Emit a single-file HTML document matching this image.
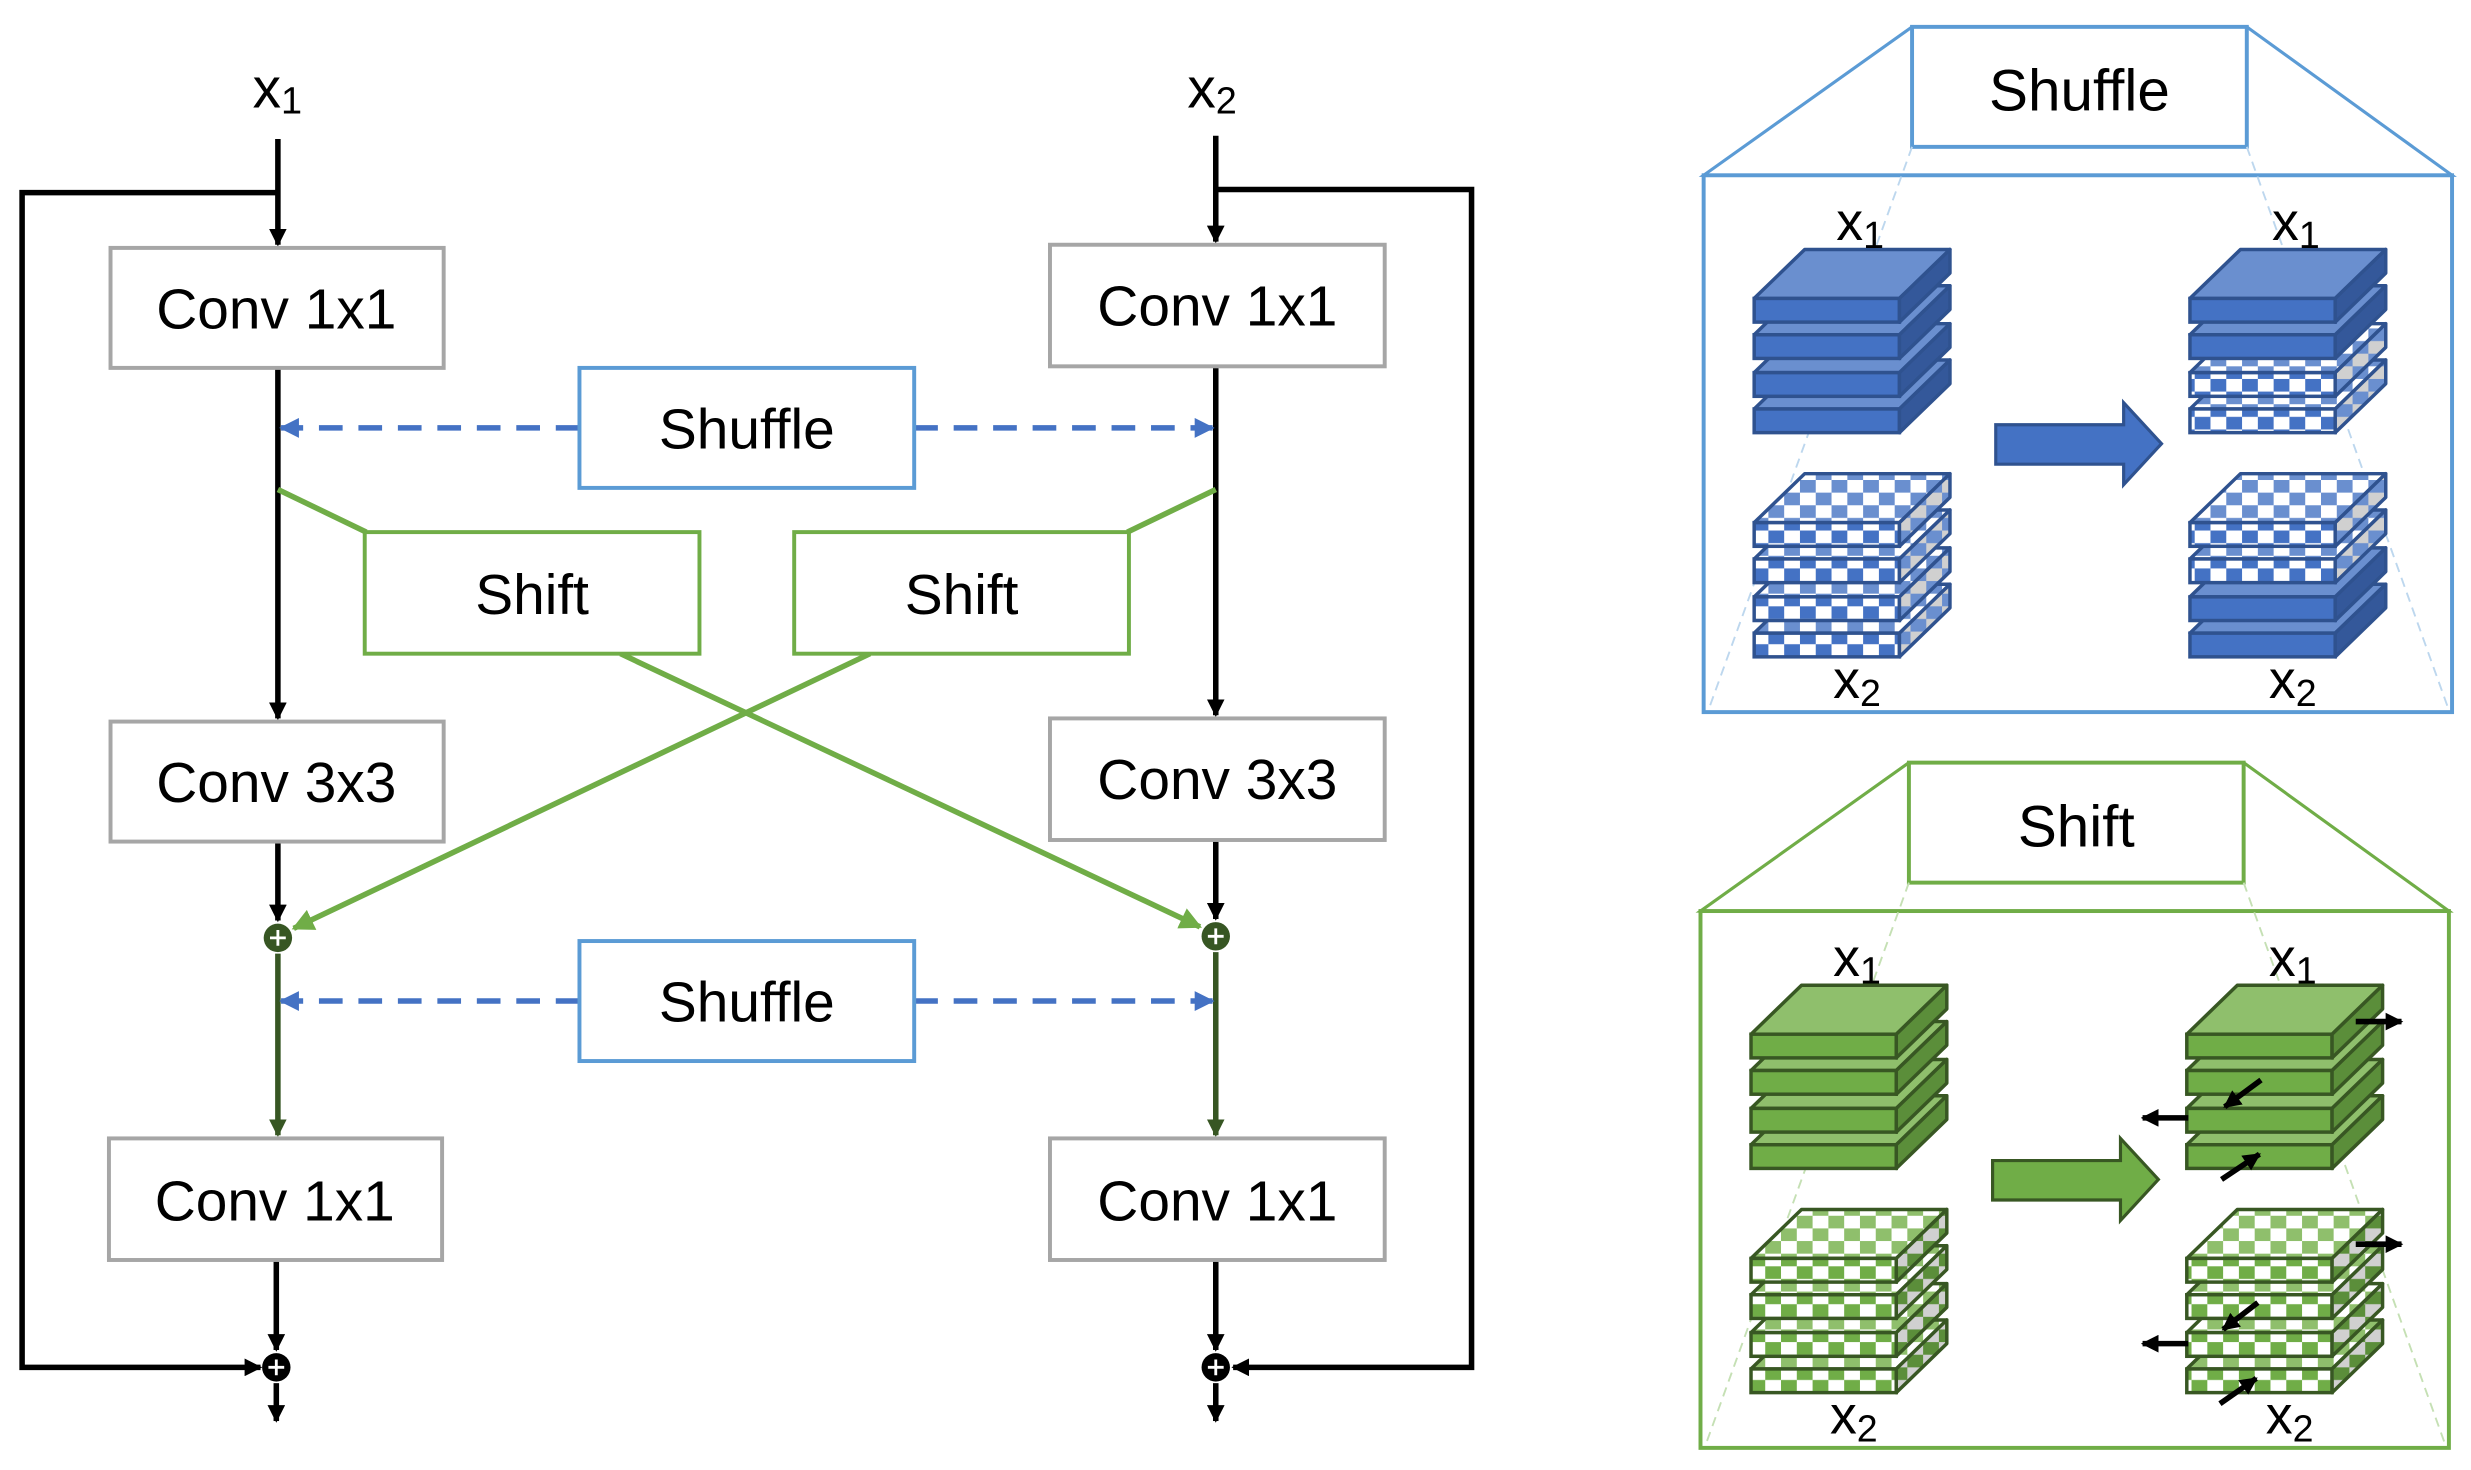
<!DOCTYPE html>
<html><head><meta charset="utf-8"><style>
html,body{margin:0;padding:0;background:#fff;}
svg{display:block;}
text{font-family:"Liberation Sans",sans-serif;fill:#000;}
</style></head><body>
<svg id="s" width="2471" height="1470" viewBox="0 0 1565 931" xmlns="http://www.w3.org/2000/svg">
<defs>
<marker id="ab" viewBox="0 0 10 10" refX="9" refY="5" markerWidth="3.2" markerHeight="3.2" orient="auto" markerUnits="strokeWidth"><path d="M0,0L10,5L0,10z" fill="#000"/></marker>
<marker id="abl" viewBox="0 0 10 10" refX="9" refY="5" markerWidth="3.6" markerHeight="3.6" orient="auto" markerUnits="strokeWidth"><path d="M0,0L10,5L0,10z" fill="#4472C4"/></marker>
<marker id="ag" viewBox="0 0 10 10" refX="9" refY="5" markerWidth="4" markerHeight="4" orient="auto" markerUnits="strokeWidth"><path d="M0,0L10,5L0,10z" fill="#70AD47"/></marker>
<marker id="adg" viewBox="0 0 10 10" refX="9" refY="5" markerWidth="3.2" markerHeight="3.2" orient="auto" markerUnits="strokeWidth"><path d="M0,0L10,5L0,10z" fill="#375623"/></marker>
<pattern id="cb" width="20" height="16" patternUnits="userSpaceOnUse"><rect width="20" height="16" fill="#fff"/><rect width="10" height="8" fill="#4472C4"/><rect x="10" y="8" width="10" height="8" fill="#4472C4"/></pattern>
<pattern id="cbt" width="20" height="16" patternUnits="userSpaceOnUse"><rect width="20" height="16" fill="#fff"/><rect width="10" height="8" fill="#6A8FCF"/><rect x="10" y="8" width="10" height="8" fill="#6A8FCF"/></pattern>
<pattern id="cbs" width="20" height="16" patternUnits="userSpaceOnUse"><rect width="20" height="16" fill="#d0d0d0"/><rect width="10" height="8" fill="#6A8FCF"/><rect x="10" y="8" width="10" height="8" fill="#6A8FCF"/></pattern>
<pattern id="cg" width="20" height="16" patternUnits="userSpaceOnUse"><rect width="20" height="16" fill="#fff"/><rect width="10" height="8" fill="#70AD47"/><rect x="10" y="8" width="10" height="8" fill="#70AD47"/></pattern>
<pattern id="cgt" width="20" height="16" patternUnits="userSpaceOnUse"><rect width="20" height="16" fill="#fff"/><rect width="10" height="8" fill="#8FBF6C"/><rect x="10" y="8" width="10" height="8" fill="#8FBF6C"/></pattern>
<pattern id="cgs" width="20" height="16" patternUnits="userSpaceOnUse"><rect width="20" height="16" fill="#d0d0d0"/><rect width="10" height="8" fill="#5B8E3A"/><rect x="10" y="8" width="10" height="8" fill="#5B8E3A"/></pattern>
</defs>

<text x="160" y="68" font-size="36">x<tspan font-size="24" dy="4">1</tspan></text>
<text x="752" y="68" font-size="36">x<tspan font-size="24" dy="4">2</tspan></text>

<g stroke="#000" stroke-width="3.5" fill="none">
<line x1="176" y1="88" x2="176" y2="155" marker-end="url(#ab)"/>
<line x1="770" y1="86" x2="770" y2="153" marker-end="url(#ab)"/>
<polyline points="176,122 14,122 14,866 165,866" marker-end="url(#ab)"/>
<polyline points="770,120 932,120 932,866 781,866" marker-end="url(#ab)"/>
<line x1="176" y1="233" x2="176" y2="455" marker-end="url(#ab)"/>
<line x1="770" y1="232" x2="770" y2="453" marker-end="url(#ab)"/>
<line x1="176" y1="533" x2="176" y2="583" marker-end="url(#ab)"/>
<line x1="770" y1="532" x2="770" y2="582" marker-end="url(#ab)"/>
<line x1="175" y1="798" x2="175" y2="855" marker-end="url(#ab)"/>
<line x1="770" y1="798" x2="770" y2="855" marker-end="url(#ab)"/>
<line x1="175" y1="876" x2="175" y2="900" marker-end="url(#ab)"/>
<line x1="770" y1="876" x2="770" y2="900" marker-end="url(#ab)"/>
</g>
<g stroke="#375623" stroke-width="3.5" fill="none">
<line x1="176" y1="604" x2="176" y2="719" marker-end="url(#adg)"/>
<line x1="770" y1="603" x2="770" y2="719" marker-end="url(#adg)"/>
</g>
<g stroke="#70AD47" stroke-width="3.5" fill="none">
<line x1="176" y1="310" x2="232" y2="337"/>
<line x1="770" y1="310" x2="714" y2="337"/>
<line x1="393" y1="414" x2="760" y2="587" marker-end="url(#ag)"/>
<line x1="551" y1="414" x2="186" y2="588" marker-end="url(#ag)"/>
</g>
<g stroke="#4472C4" stroke-width="3.5" fill="none" stroke-dasharray="15,10">
<line x1="367" y1="271" x2="178" y2="271" marker-end="url(#abl)"/>
<line x1="579" y1="271" x2="768" y2="271" marker-end="url(#abl)"/>
<line x1="367" y1="634" x2="178" y2="634" marker-end="url(#abl)"/>
<line x1="579" y1="634" x2="768" y2="634" marker-end="url(#abl)"/>
</g>

<g fill="#fff" stroke="#A6A6A6" stroke-width="2.5">
<rect x="70" y="157" width="211" height="76"/>
<rect x="665" y="155" width="212" height="77"/>
<rect x="70" y="457" width="211" height="76"/>
<rect x="665" y="455" width="212" height="77"/>
<rect x="69" y="721" width="211" height="77"/>
<rect x="665" y="721" width="212" height="77"/>
</g>
<g fill="#fff" stroke="#5B9BD5" stroke-width="2.5">
<rect x="367" y="233" width="212" height="76"/>
<rect x="367" y="596" width="212" height="76"/>
</g>
<g fill="#fff" stroke="#70AD47" stroke-width="2.5">
<rect x="231" y="337" width="212" height="77"/>
<rect x="503" y="337" width="212" height="77"/>
</g>
<g font-size="36" text-anchor="middle">
<text x="175" y="208">Conv 1x1</text>
<text x="771" y="206">Conv 1x1</text>
<text x="175" y="508">Conv 3x3</text>
<text x="771" y="506">Conv 3x3</text>
<text x="174" y="773">Conv 1x1</text>
<text x="771" y="773">Conv 1x1</text>
<text x="473" y="284">Shuffle</text>
<text x="473" y="647">Shuffle</text>
<text x="337" y="389">Shift</text>
<text x="609" y="389">Shift</text>
</g>

<g>
<circle cx="176" cy="594" r="9" fill="#375623"/>
<circle cx="770" cy="593" r="9" fill="#375623"/>
<circle cx="175" cy="866" r="9" fill="#000"/>
<circle cx="770" cy="866" r="9" fill="#000"/>
<g stroke="#fff" stroke-width="1.8">
<path d="M171,594h10M176,589v10"/><path d="M765,593h10M770,588v10"/>
<path d="M170,866h10M175,861v10"/><path d="M765,866h10M770,861v10"/>
</g>
</g>

<g id="panels"></g>
</svg>
<script>
(function(){
var NS="http://www.w3.org/2000/svg",P=document.getElementById("panels");
function el(t,a,par){var e=document.createElementNS(NS,t);for(var k in a)e.setAttribute(k,a[k]);(par||P).appendChild(e);return e;}
function txt(x,y,s,sub,fs,par){var t=el("text",{x:x,y:y,"font-size":fs},par);t.appendChild(document.createTextNode(s));if(sub){var ts=el("tspan",{"font-size":fs*0.7,dy:5},t);ts.appendChild(document.createTextNode(sub));}return t;}
function layer(g,x,y,c,checked){
 var w=92,h=15,d=32,dy=31;
 el("polygon",{points:[x,y,x+d,y-dy,x+w+d,y-dy,x+w,y].join(","),fill:checked?c.ct:c.top,stroke:c.st,"stroke-width":2.2,"stroke-linejoin":"round"},g);
 el("rect",{x:x,y:y,width:w,height:h,fill:checked?c.cf:c.front,stroke:c.st,"stroke-width":2.2},g);
 el("polygon",{points:[x+w,y,x+w+d,y-dy,x+w+d,y-dy+h,x+w,y+h].join(","),fill:checked?c.cs:c.side,stroke:c.st,"stroke-width":2.2,"stroke-linejoin":"round"},g);
}
function stack(g,x,ys,c,chk){for(var i=ys.length-1;i>=0;i--)layer(g,x,ys[i],c,chk[i]);}
function panel(dx,dyy,c,isShift){
 var g=el("g",{transform:"translate("+dx+","+dyy+")"});
 el("polyline",{points:"1211,17 1079,111 1553,111 1423,17",fill:"none",stroke:c.box,"stroke-width":2},g);
 el("rect",{x:1211,y:17,width:212,height:76,fill:"#fff",stroke:c.box,"stroke-width":2.5},g);
 el("rect",{x:1079,y:111,width:474,height:340,fill:"#fff",stroke:c.box,"stroke-width":2.5},g);
 el("path",{d:"M1211,93L1083,447M1423,93L1550,447",stroke:c.dash,"stroke-width":1.2,"stroke-dasharray":"6,4",fill:"none"},g);
 var t=el("text",{x:1317,y:70,"font-size":37,"text-anchor":"middle"},g);t.appendChild(document.createTextNode(isShift?"Shift":"Shuffle"));
 var top=[189,212,236,259],bot=[331,354,378,401];
 var cols={front:c.front,top:c.top,side:c.side,st:c.st,cf:c.cf,ct:c.ct,cs:c.cs};
 stack(g,1111,top,cols,[0,0,0,0]);
 stack(g,1111,bot,cols,[1,1,1,1]);
 if(isShift){stack(g,1387,top,cols,[0,0,0,0]);stack(g,1387,bot,cols,[1,1,1,1]);}
 else{stack(g,1387,top,cols,[0,0,1,1]);stack(g,1387,bot,cols,[1,1,0,0]);}
 el("polygon",{points:"1264,269 1345,269 1345,255 1369,281 1345,307 1345,294 1264,294",fill:c.front,stroke:c.st,"stroke-width":2},g);
 txt(1163,152,"x","1",34,g);txt(1439,152,"x","1",34,g);
 txt(1161,442,"x","2",34,g);txt(1437,442,"x","2",34,g);
 if(isShift){
  var A=[[1494,181,1523,181],[1434,218,1411,235],[1388,242,1359,242],[1409,281,1433,265],
         [1494,322,1523,322],[1432,359,1410,376],[1388,385,1359,385],[1408,423,1431,407]];
  A.forEach(function(a){el("line",{x1:a[0],y1:a[1],x2:a[2],y2:a[3],stroke:"#000","stroke-width":3.5,"marker-end":"url(#ab)"},g);});
 }
}
panel(0,0,{box:"#5B9BD5",dash:"#BDD7EE",front:"#4472C4",top:"#6A8FCF",side:"#34589A",st:"#2F528F",cf:"url(#cb)",ct:"url(#cbt)",cs:"url(#cbs)"},false);
panel(-2,466,{box:"#70AD47",dash:"#C5E0B4",front:"#70AD47",top:"#8FBF6C",side:"#5B8E3A",st:"#385723",cf:"url(#cg)",ct:"url(#cgt)",cs:"url(#cgs)"},true);
})();
</script>
</body></html>
